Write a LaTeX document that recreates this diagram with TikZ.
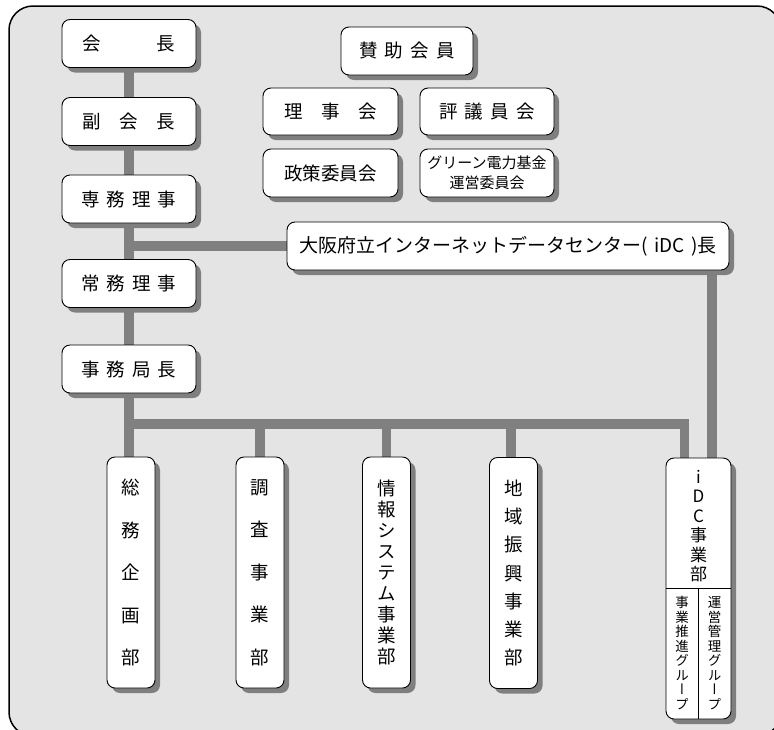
\documentclass[tikz,border=0pt]{standalone}
\usepackage{fontspec}
\usepackage{graphicx}
\setmainfont{Noto Sans CJK JP}
\newfontfamily\vjp[RawFeature=+vert]{Noto Sans CJK JP}
\usetikzlibrary{shadows}
\definecolor{paper}{HTML}{E4E4E4}
\definecolor{linegray}{HTML}{808080}
\definecolor{shadowgray}{HTML}{7F7F7F}
\pgfdeclarelayer{bg}\pgfdeclarelayer{lines}\pgfsetlayers{bg,lines,main}
\tikzset{
 box/.style={draw=black, line width=0.9pt, fill=white, rounded corners=8pt, inner sep=0pt,
   font=\fontsize{18.5}{22}\selectfont,
   drop shadow={shadow xshift=5pt, shadow yshift=-5pt, fill=shadowgray, opacity=1}},
 wbox/.style={box, minimum width=134pt, minimum height=48pt},
 vertbox/.style={box, minimum width=48pt, minimum height=231pt, align=center},
 link/.style={draw=linegray, line width=9.5pt},
}
\newcommand\ks{\hspace{7pt}}
\begin{document}
\begin{tikzpicture}[x=1pt,y=-1pt]
\useasboundingbox (0,0) rectangle (774,729);
\begin{pgfonlayer}{bg}
\clip (0,0) rectangle (774,729);
\fill[white] (0,0) rectangle (774,729);
\draw[fill=paper, line width=1.5pt, rounded corners=24pt] (9,6) rectangle (781,736);
\end{pgfonlayer}

% left column
\node[wbox] (kaicho) at (129,43.5) {会　　　長};
\node[wbox] (fuku) at (129,121.5) {副　会　長};
\node[wbox] (senmu) at (129,199) {専\ks 務\ks 理\ks 事};
\node[wbox] (joumu) at (129,283.5) {常\ks 務\ks 理\ks 事};
\node[wbox] (jimu) at (129,369) {事\ks 務\ks 局\ks 長};

% upper right
\node[wbox, minimum width=132pt] (sanjo) at (407,51) {賛\ks 助\ks 会\ks 員};
\node[wbox, minimum width=135pt, minimum height=47pt] (rijikai) at (330.5,111.5) {理　事　会};
\node[wbox, minimum height=47pt] (hyogi) at (487,111.5) {評\ks 議\ks 員\ks 会};
\node[wbox, minimum width=135pt] (seisaku) at (330.5,173) {政策委員会};
\node[wbox, align=center, font=\fontsize{15}{20}\selectfont] (green) at (487,173) {グリーン電力基金\\運営委員会};

% iDC chief
\node[wbox, minimum width=442pt, font=\fontsize{19}{22}\selectfont] (idcchief) at (508,246) {大阪府立インターネットデータセンター(\,\,iDC\,\,)長};

% bottom departments
\node[vertbox, font=\vjp\fontsize{18.5}{42.5}\selectfont] (soumu) at (131,572.5) {総\\務\\企\\画\\部};
\node[vertbox, font=\vjp\fontsize{18.5}{42.5}\selectfont] (chousa) at (260,572.5) {調\\査\\事\\業\\部};
\node[vertbox, font=\vjp\fontsize{18.5}{21}\selectfont] (jouhou) at (386.5,572.5) {情\\報\\シ\\ス\\テ\\ム\\事\\業\\部};
\node[vertbox, font=\vjp\fontsize{18.5}{28.3}\selectfont] (chiiki) at (513.5,573) {地\\域\\振\\興\\事\\業\\部};
\node[box, minimum width=65pt, minimum height=261pt] (idcdept) at (698.5,588.5) {};
\draw[line width=0.9pt] (idcdept.west |- 0,588) -- (idcdept.east |- 0,588);
\draw[line width=0.9pt] (idcdept.center |- 0,588) -- (idcdept.south);
\node[align=center, inner sep=0pt, font=\vjp\fontsize{17}{19.5}\selectfont] (idctitle) at (698.5,526) {i\\D\\C\\事\\業\\部};
\node[align=center, inner sep=0pt, font=\vjp\fontsize{13.5}{14.5}\selectfont] (suishin) at (682,653) {事\\業\\推\\進\\グ\\ル\\ー\\プ};
\node[align=center, inner sep=0pt, font=\vjp\fontsize{13.5}{14.5}\selectfont] (unei) at (714.5,653) {運\\営\\管\\理\\グ\\ル\\ー\\プ};

% connectors
\begin{pgfonlayer}{lines}
\coordinate (bus) at (129,424);
\draw[link] (kaicho.south) -- (kaicho.south |- soumu.north);
\draw[link] (idcchief.west) -- (idcchief.west -| senmu.south);
\draw[link] (bus) -| ([xshift=-14pt]idcdept.north);
\draw[link] (chousa.north) -- (chousa.north |- bus);
\draw[link] (jouhou.north) -- (jouhou.north |- bus);
\draw[link] ([xshift=-2.5pt]chiiki.north) -- ([xshift=-2.5pt]chiiki.north |- bus);
\draw[link] ([xshift=13.5pt]idcdept.north) -- ([xshift=13.5pt]idcdept.north |- idcchief.south);
\end{pgfonlayer}
\end{tikzpicture}
\end{document}
